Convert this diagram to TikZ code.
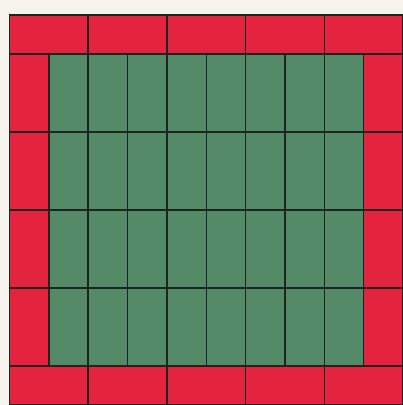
\documentclass[tikz,border=0pt]{standalone}
\usepackage{tikz}
\definecolor{paper}{RGB}{246,242,236}
\definecolor{bandred}{RGB}{228,36,62}
\definecolor{fieldgreen}{RGB}{84,138,104}
\definecolor{gridink}{RGB}{28,38,32}
\tikzset{
  redband/.style={fill=bandred},
  greenfield/.style={fill=fieldgreen},
  gridline/.style={draw=gridink, line width=1.4pt, line cap=rect}
}
\begin{document}
\begin{tikzpicture}[x=39.35pt, y=-39pt]
  \useasboundingbox[fill=paper] (-0.2414,-0.3846) rectangle (10,10);
  % border and field
  \fill[redband] (0,0) rectangle (10,10);
  \fill[greenfield] (1,1) rectangle (9,9);
  % outline and band edges
  \draw[gridline] (0,0) rectangle (10,10);
  \draw[gridline] (0,1) -- (10,1);
  \draw[gridline] (0,9) -- (10,9);
  \draw[gridline] (1,1) -- (1,9);
  \draw[gridline] (9,1) -- (9,9);
  % long lines through bands
  \foreach \r in {3,5,7}
    \draw[gridline] (0,\r) -- (10,\r);
  \foreach \c in {2,4,6,8}
    \draw[gridline] (\c,0) -- (\c,10);
  % short lines inside the field
  \foreach \c in {3,5,7}
    \draw[gridline] (\c,1) -- (\c,9);
\end{tikzpicture}
\end{document}
